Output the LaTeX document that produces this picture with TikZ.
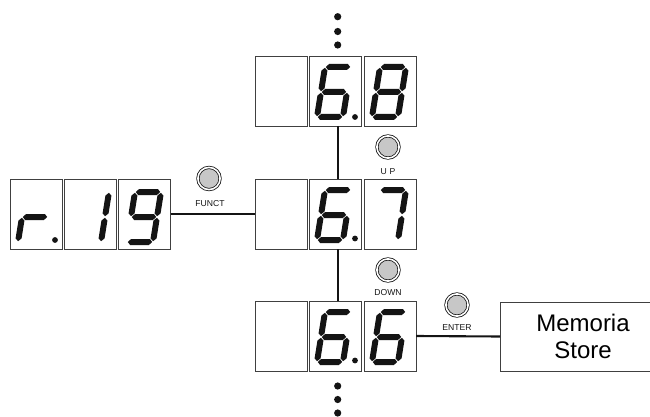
\documentclass[tikz,border=0pt]{standalone}
\usepackage{fontspec}
\setmainfont{Liberation Sans}
\definecolor{segcol}{gray}{0.08}
\definecolor{boxline}{gray}{0.25}
\definecolor{btnfill}{gray}{0.78}

% one bevelled segment, horizontal: x1, x2, y
\newcommand\hseg[3]{%
  \fill ({#1+0.8},#3) -- ({#1+3.6},{#3+3.0}) -- ({#2-3.6},{#3+3.0}) --
        ({#2-0.8},#3) -- ({#2-3.6},{#3-3.0}) -- ({#1+3.6},{#3-3.0}) -- cycle;}
% one bevelled segment, vertical: x, y1, y2
\newcommand\vseg[3]{%
  \fill (#1,{#2+0.8}) -- ({#1+3.0},{#2+3.6}) -- ({#1+3.0},{#3-3.6}) --
        (#1,{#3-0.8}) -- ({#1-3.0},{#3-3.6}) -- ({#1-3.0},{#2+3.6}) -- cycle;}
% the seven segments of a 26 x 50 cell
\newcommand\sevsega{\hseg{0}{26}{50}}
\newcommand\sevsegb{\vseg{26}{25}{50}}
\newcommand\sevsegc{\vseg{26}{0}{25}}
\newcommand\sevsegd{\hseg{0}{26}{0}}
\newcommand\sevsege{\vseg{0}{0}{25}}
\newcommand\sevsegf{\vseg{0}{25}{50}}
\newcommand\sevsegg{\hseg{0}{26}{25}}
% slanted digit, lower left corner at #1, lit segments #2
\newcommand\sevdigit[2]{%
  \begin{scope}[shift={#1},xslant=0.16,fill=segcol]
    \foreach \s in {#2}{\csname sevseg\s\endcsname}
  \end{scope}}

\begin{document}
\begin{tikzpicture}[x=1pt,y=1pt,
  digbox/.style={draw=boxline,line width=0.9pt,fill=white,
    minimum width=52pt,minimum height=70pt,inner sep=0pt,outer sep=0pt},
  membox/.style={draw=boxline,line width=0.9pt,fill=white,
    minimum width=166pt,minimum height=69pt,inner sep=0pt,outer sep=0pt,
    align=center,font=\fontsize{24}{27}\selectfont},
  btn/.style={circle,draw=segcol,line width=0.8pt,double=white,
    double distance=1.6pt,fill=btnfill,minimum size=22.2pt,inner sep=0pt},
  btnlabel/.style={font=\fontsize{8.6}{9}\selectfont,text=segcol,inner sep=0pt},
  link/.style={draw=segcol,line width=2.1pt},
  dp/.style={fill=segcol}]
\useasboundingbox (0,0) rectangle (650,-417);

% left display: r.19
\node[digbox] (l1) at (36,-214) {};
\node[digbox] (l2) at (90,-214) {};
\node[digbox] (l3) at (144.5,-214) {};
% column of displays
\node[digbox] (t1) at (281,-91) {};
\node[digbox] (t2) at (335,-91) {};
\node[digbox] (t3) at (390,-91) {};
\node[digbox] (m1) at (281,-214) {};
\node[digbox] (m2) at (335,-214) {};
\node[digbox] (m3) at (390,-214) {};
\node[digbox] (b1) at (281,-336) {};
\node[digbox] (b2) at (335,-336) {};
\node[digbox] (b3) at (390,-336) {};
\node[membox] (mem) at (583,-336.5) {Memoria\\Store};

% connectors
\draw[link] (l3.east) -- (m1.west);
\draw[link] ([xshift=2.7pt]t2.south) -- ([xshift=2.7pt]m2.north);
\draw[link] ([xshift=2.7pt]m2.south) -- ([xshift=2.7pt]b2.north);
\draw[link] (b3.east) -- (mem.west);

% digits
\sevdigit{(18,-242)}{e,g}
\fill[dp] (55,-240) circle (2.9);
\sevdigit{(75,-242)}{b,c}
\sevdigit{(127,-242)}{a,b,c,d,f,g}
\sevdigit{(317,-117)}{a,c,d,e,f,g}
\fill[dp] (355,-117) circle (2.9);
\sevdigit{(372,-117)}{a,b,c,d,e,f,g}
\sevdigit{(317,-240)}{a,c,d,e,f,g}
\fill[dp] (355,-238.5) circle (2.9);
\sevdigit{(372,-240)}{a,b,c}
\sevdigit{(317,-362)}{a,c,d,e,f,g}
\fill[dp] (355,-360.5) circle (2.9);
\sevdigit{(372,-362)}{a,c,d,e,f,g}

% buttons
\node[btn] (bfunct) at (209,-178.5) {};
\node[btnlabel] (lfunct) at (210,-203.5) {FUNCT};
\node[btn] (bup) at (388,-147) {};
\node[btnlabel] (lup) at (388,-172) {U\hspace{3pt}P};
\node[btn] (bdown) at (388,-270) {};
\node[btnlabel] (ldown) at (388,-293) {DOWN};
\node[btn] (benter) at (457,-305) {};
\node[btnlabel] (lenter) at (457,-327.5) {ENTER};

% continuation dots
\foreach \yy in {16.7,31.5,45}{\fill[dp] (337.7,-\yy) circle (3.6);}
\foreach \yy in {386,399.5,413}{\fill[dp] (337.7,-\yy) circle (3.6);}
\end{tikzpicture}
\end{document}
